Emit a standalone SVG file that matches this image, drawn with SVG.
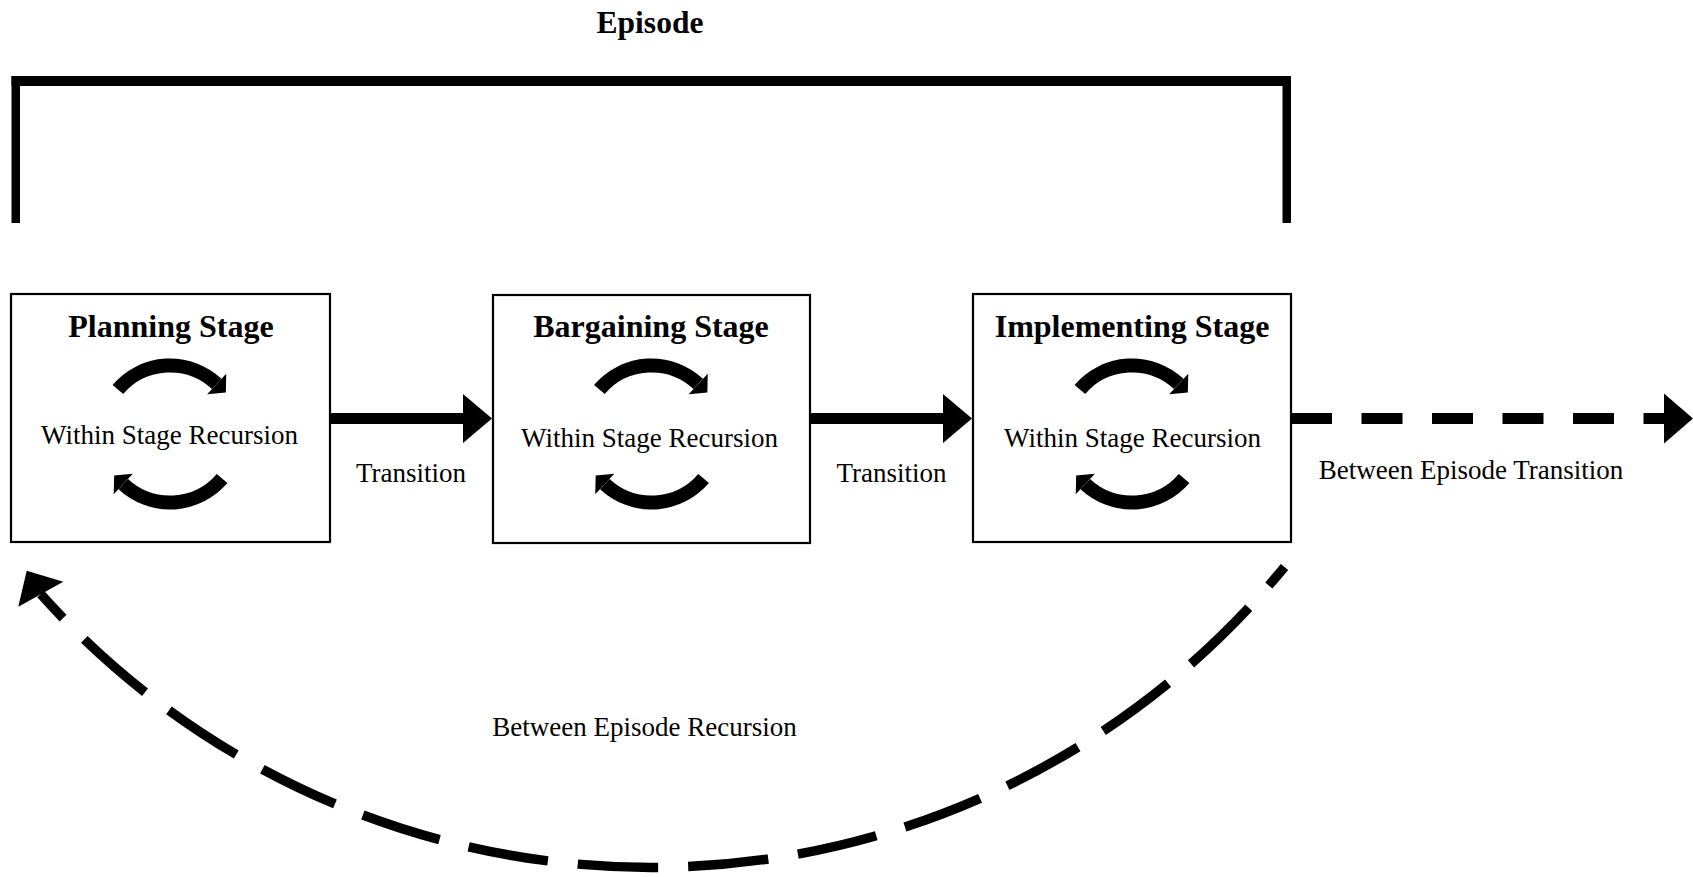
<svg xmlns="http://www.w3.org/2000/svg" xmlns:xlink="http://www.w3.org/1999/xlink" width="1693" height="877" viewBox="0 0 1693 877">
<style>
  .title { font-family: "Liberation Serif", "Times New Roman", serif; font-weight: bold; font-size: 32px; fill: #000; text-anchor: middle; }
  .lbl { font-family: "Liberation Serif", "Times New Roman", serif; font-size: 27px; fill: #000; text-anchor: middle; }
  .box { fill: #fff; stroke: #000; stroke-width: 2.2; }
  .cyc { fill: none; stroke: #000; stroke-width: 14; stroke-linecap: butt; marker-end: url(#cycHead); }
  .shaft { fill: none; stroke: #000; stroke-width: 11; stroke-linecap: butt; }
  .head { fill: #000; stroke: none; }
</style>
<defs>
  <marker id="cycHead" markerUnits="userSpaceOnUse" markerWidth="14" markerHeight="30" refX="0" refY="14" orient="auto" overflow="visible">
    <path d="M0,0 L12.5,14 L0,28 Z" fill="#000"/>
  </marker>
  <g id="cycle">
    <path class="cyc" d="M -52.1 -44.5 A 68.5 68.5 0 0 1 46.7 -50.1"/>
    <path class="cyc" d="M 52.1 44.5 A 68.5 68.5 0 0 1 -46.7 50.1"/>
  </g>
</defs>
<rect width="1693" height="877" fill="#fff"/>

<g id="episode">
  <text class="title" x="650" y="33" style="font-size:31.5px">Episode</text>
  <rect x="11.5" y="76" width="1279.5" height="10" fill="#000"/>
  <rect x="11.5" y="76" width="8.5" height="147" fill="#000"/>
  <rect x="1282.5" y="76" width="8.5" height="147" fill="#000"/>
</g>

<g id="connectors">
  <g id="transition1">
    <line class="shaft" x1="330" y1="418.5" x2="464" y2="418.5"/>
    <polygon class="head" points="463,394 492,418.5 463,443"/>
  </g>
  <g id="transition2">
    <line class="shaft" x1="810" y1="418.5" x2="944" y2="418.5"/>
    <polygon class="head" points="943,394 972,418.5 943,443"/>
  </g>
  <g id="between-episode-transition">
    <line class="shaft" x1="1291" y1="418.5" x2="1665" y2="418.5" stroke-dasharray="41 29.5"/>
    <polygon class="head" points="1664,393.5 1693,418.5 1664,443.5"/>
  </g>
  <g id="between-episode-recursion">
    <path d="M 1284.5 566.9 A 818 818 0 0 1 40.8 594.2" fill="none" stroke="#000" stroke-width="9.5" stroke-dasharray="80.5 30" stroke-dashoffset="56.1"/>
    <polygon class="head" points="26.7,570.7 63.3,581.7 18.3,606.7"/>
  </g>
</g>

<g id="planning-stage">
  <rect class="box" x="11" y="294" width="319" height="248"/>
  <text class="title" x="171" y="337">Planning Stage</text>
  <use xlink:href="#cycle" href="#cycle" x="170" y="434"/>
  <text class="lbl" x="169.5" y="444">Within Stage Recursion</text>
</g>

<g id="bargaining-stage">
  <rect class="box" x="493" y="295" width="317" height="248"/>
  <text class="title" x="651" y="337">Bargaining Stage</text>
  <use xlink:href="#cycle" href="#cycle" x="651.5" y="434"/>
  <text class="lbl" x="649.5" y="447">Within Stage Recursion</text>
</g>

<g id="implementing-stage">
  <rect class="box" x="973" y="294" width="318" height="248"/>
  <text class="title" x="1132" y="337">Implementing Stage</text>
  <use xlink:href="#cycle" href="#cycle" x="1132" y="434"/>
  <text class="lbl" x="1132.5" y="447">Within Stage Recursion</text>
</g>

<g id="labels">
  <text class="lbl" x="411" y="482">Transition</text>
  <text class="lbl" x="891.5" y="482">Transition</text>
  <text class="lbl" x="1471" y="479">Between Episode Transition</text>
  <text class="lbl" x="644.5" y="735.5">Between Episode Recursion</text>
</g>
</svg>
